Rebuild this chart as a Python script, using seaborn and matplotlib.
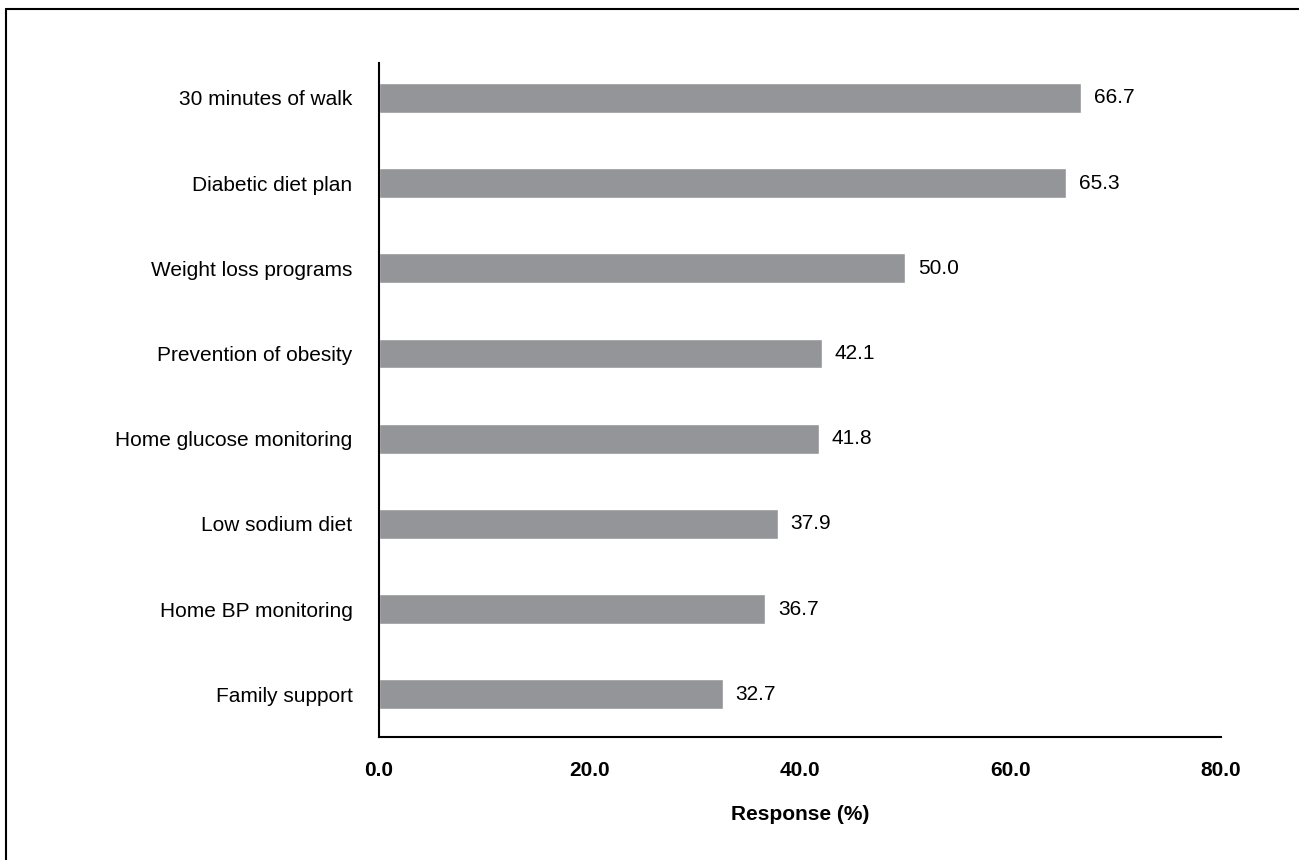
import matplotlib
matplotlib.use("Agg")
import matplotlib.pyplot as plt
from matplotlib.lines import Line2D
import seaborn as sns
import pandas as pd

categories = [
    "30 minutes of walk",
    "Diabetic diet plan",
    "Weight loss programs",
    "Prevention of obesity",
    "Home glucose monitoring",
    "Low sodium diet",
    "Home BP monitoring",
    "Family support",
]
values = [66.7, 65.3, 50.0, 42.1, 41.8, 37.9, 36.7, 32.7]
x_ticks = [0, 20, 40, 60, 80]

sns.set_style("white")
plt.rcParams["font.family"] = ["Liberation Sans", "DejaVu Sans"]
plt.rcParams.update({
    "text.color": "black",
    "axes.labelcolor": "black",
    "xtick.color": "black",
    "ytick.color": "black",
})

df = pd.DataFrame({"item": categories, "pct": values})

fig = plt.figure(figsize=(12.99, 8.60), dpi=100)
ax = fig.add_axes([379 / 1299, 123 / 860, 842 / 1299, 674 / 860])

sns.barplot(data=df, x="pct", y="item", orient="h", color="#939598",
            width=0.35, saturation=1, ax=ax)

for i, v in enumerate(values):
    ax.annotate(f"{v:.1f}", xy=(v, i), xytext=(9, 0), textcoords="offset points",
                ha="left", va="center", fontsize=15, color="black")

ax.set_xlim(0, 80)
ax.set_ylim(7.5, -0.41)
ax.set_xticks(x_ticks)
ax.set_xticklabels([f"{t:.1f}" for t in x_ticks], fontsize=15, fontweight="bold")
ax.tick_params(axis="x", direction="out", length=5, width=1.5, pad=12,
               color="black", labelcolor="black")
ax.tick_params(axis="y", length=0, pad=19, labelsize=15, labelcolor="black")
ax.set_ylabel("")
ax.set_xlabel("Response (%)", fontsize=15, fontweight="bold", labelpad=18,
              color="black")

for side in ["top", "right"]:
    ax.spines[side].set_visible(False)
for side in ["left", "bottom"]:
    ax.spines[side].set_linewidth(1.5)
    ax.spines[side].set_color("black")

# Frame around the figure (top and left edges)
fx0, fy0 = 6 / 1299, 1 - 9 / 860
fig.add_artist(Line2D([fx0, 1.01], [fy0, fy0], transform=fig.transFigure,
                      color="black", linewidth=1.5))
fig.add_artist(Line2D([fx0, fx0], [fy0, -0.01], transform=fig.transFigure,
                      color="black", linewidth=1.5))

fig.savefig("out.png", dpi=100)
